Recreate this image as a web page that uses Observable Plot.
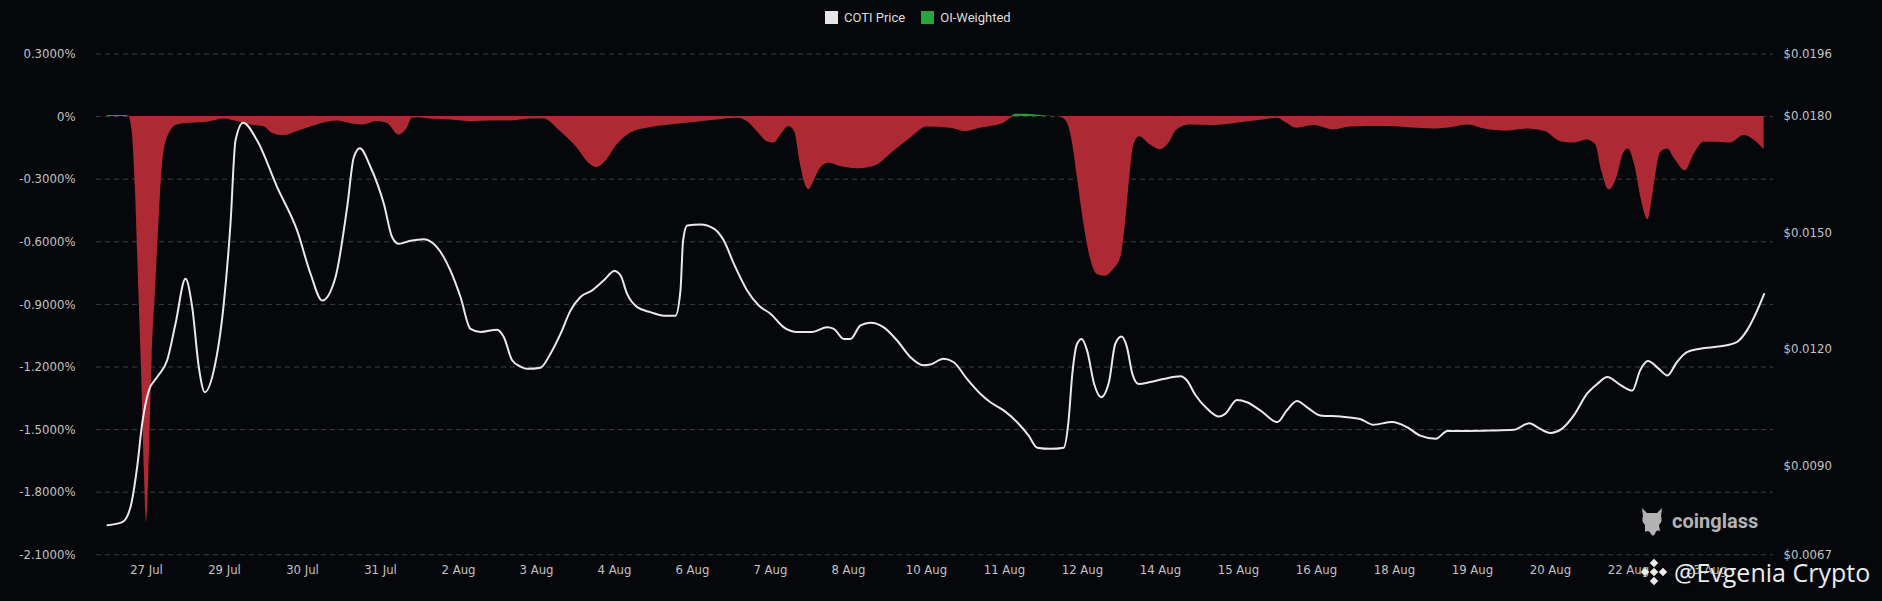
<!DOCTYPE html>
<html>
<head>
<meta charset="utf-8">
<script src="https://cdn.jsdelivr.net/npm/d3@7"></script>
<script src="https://cdn.jsdelivr.net/npm/@observablehq/plot@0.6"></script>
<style>
  html, body { margin: 0; padding: 0; background: #06070a; }
  #wrap { position: relative; width: 1882px; height: 601px; background: #06070a; overflow: hidden;
          font-family: "DejaVu Sans Condensed", "Liberation Sans Narrow", Roboto, sans-serif; }
  #legend { position: absolute; left: 825px; top: 9px; height: 17px; display: flex; align-items: center;
            color: #dcdcdc; font-size: 13px; font-family: Roboto, "Noto Sans", sans-serif; }
  #legend .sw { width: 13px; height: 13px; display: inline-block; margin-right: 6px; }
  #legend .item { display: flex; align-items: center; margin-right: 16px; }
  #chart { position: absolute; left: 0; top: 34px; }
  #chart2 { position: absolute; left: 0; top: 34px; }
  #cg { position: absolute; left: 1638px; top: 505px; display: flex; align-items: center; }
  #cg span { color: #b3b3b3; font: bold 20px Roboto, "Noto Sans", sans-serif; margin-left: 6px; }
  #wm { position: absolute; left: 1640px; top: 555px; display: flex; align-items: center; }
  #wm span { color: #ececec; font: 25px "Open Sans", "Noto Sans", sans-serif; margin-left: 6px;
             text-shadow: 0 0 2px rgba(0,0,0,0.6); }
</style>
</head>
<body>
<div id="wrap">
  <div id="legend">
    <div class="item"><span class="sw" style="background:#e6e6e6"></span>COTI Price</div>
    <div class="item"><span class="sw" style="background:#27a43a"></span>OI-Weighted</div>
  </div>
  <div id="chart"></div>
  <div id="chart2"></div>
  <div id="cg">
    <svg width="28" height="32" viewBox="0 0 28 32">
      <path d="M4 3 L9 8 L19 8 L24 3 L23 11 Q25 16 21 20 L22 26 Q18 24 17 29 L15 31 L13 29 Q11 24 7 27 L7 20 Q3 16 5 11 Z" fill="#b3b3b3"/>
    </svg>
    <span>coinglass</span>
  </div>
  <div id="wm">
    <svg width="28" height="28" viewBox="0 0 28 28">
      <g fill="#ececec">
        <rect x="11" y="11" width="6" height="6" transform="rotate(45 14 14)"/>
        <rect x="11" y="2" width="6" height="6" transform="rotate(45 14 5)"/>
        <rect x="11" y="20" width="6" height="6" transform="rotate(45 14 23)"/>
        <rect x="2" y="11" width="6" height="6" transform="rotate(45 5 14)"/>
        <rect x="20" y="11" width="6" height="6" transform="rotate(45 23 14)"/>
      </g>
    </svg>
    <span>@Evgenia Crypto</span>
  </div>
</div>
<script>
// ---- data (x = position on the date axis, in label steps; 0 = "27 Jul") ----
const tickLabels = ["27 Jul","29 Jul","30 Jul","31 Jul","2 Aug","3 Aug","4 Aug","6 Aug","7 Aug","8 Aug",
  "10 Aug","11 Aug","12 Aug","14 Aug","15 Aug","16 Aug","18 Aug","19 Aug","20 Aug","22 Aug","23 Aug"];
const pctTicks = [0.3, 0, -0.3, -0.6, -0.9, -1.2, -1.5, -1.8, -2.1];
const priceTicks = [0.0196, 0.0180, 0.0150, 0.0120, 0.0090, 0.0067];

const priceIdx = [-0.5,-0.31,-0.205,-0.12,-0.056,0.03,0.137,0.265,0.372,0.5,0.586,0.671,0.748,0.863,0.991,
  1.077,1.141,1.239,1.419,1.675,1.932,2.103,2.252,2.423,2.573,2.658,2.735,2.872,3.043,3.15,3.235,3.385,3.556,
  3.726,3.897,4.026,4.154,4.282,4.496,4.581,4.688,4.795,4.88,5.051,5.179,5.308,5.436,5.564,5.714,5.863,6.0,
  6.077,6.162,6.291,6.462,6.632,6.782,6.846,6.88,6.932,7.103,7.274,7.4,7.53,7.701,7.85,8.0,8.171,8.342,8.534,
  8.726,8.812,8.94,9.026,9.154,9.282,9.453,9.624,9.795,9.966,10.05,10.22,10.35,10.52,10.69,10.82,10.99,11.16,
  11.31,11.42,11.59,11.76,11.82,11.87,11.93,11.99,12.06,12.15,12.24,12.34,12.42,12.5,12.57,12.64,12.72,12.87,
  13.04,13.26,13.34,13.45,13.6,13.75,13.83,13.98,14.11,14.28,14.5,14.62,14.75,14.88,15.05,15.31,15.56,15.73,
  15.97,16.16,16.33,16.53,16.68,16.93,17.23,17.53,17.73,17.83,18.0,18.15,18.3,18.47,18.6,18.73,18.9,19.05,
  19.15,19.25,19.39,19.5,19.62,19.75,19.92,20.18,20.39,20.52,20.65,20.74];
const priceUsd = [0.00746,0.00754,0.00793,0.00896,0.01007,0.01093,0.01128,0.01171,0.01265,0.01381,0.01308,
  0.01153,0.01089,0.01145,0.01317,0.01523,0.01737,0.01783,0.01737,0.01617,0.01505,0.01394,0.01325,0.01385,
  0.01566,0.01694,0.01717,0.01669,0.01574,0.01488,0.01471,0.01479,0.01483,0.01462,0.01402,0.01334,0.01252,
  0.01244,0.0125,0.01231,0.01171,0.01155,0.01149,0.01152,0.01188,0.01239,0.01299,0.01334,0.01351,0.01377,
  0.01401,0.0139,0.01342,0.01308,0.01295,0.01286,0.01286,0.01351,0.0148,0.01518,0.01521,0.0151,0.0148,0.0142,
  0.01351,0.01312,0.01291,0.01256,0.01244,0.01244,0.01256,0.01252,0.01226,0.01226,0.01261,0.01268,0.01256,
  0.01222,0.01179,0.01158,0.0116,0.01175,0.01166,0.01123,0.01085,0.01063,0.01042,0.01012,0.00977,0.00946,
  0.00943,0.00946,0.01012,0.01136,0.01213,0.01226,0.01196,0.0111,0.01076,0.01115,0.01213,0.01232,0.01205,
  0.01136,0.0111,0.01115,0.01123,0.0113,0.01119,0.01081,0.01046,0.01026,0.01033,0.01069,0.01063,0.01042,
  0.01012,0.01042,0.01066,0.0105,0.01029,0.01026,0.0102,0.01005,0.01012,0.00999,0.00977,0.00969,0.00989,
  0.00989,0.0099,0.00992,0.01009,0.00999,0.00984,0.00995,0.01029,0.01085,0.0111,0.01128,0.01107,0.01093,
  0.01145,0.01169,0.01149,0.01132,0.01166,0.01192,0.01201,0.01207,0.01218,0.01248,0.01299,0.01342];

const oiIdx = [-0.5,-0.25,-0.227,-0.184,-0.141,-0.098,-0.056,-0.026,0,0.03,0.073,0.115,0.158,0.201,0.265,
  0.393,0.564,0.778,0.991,1.162,1.333,1.504,1.611,1.76,1.932,2.188,2.444,2.658,2.786,2.957,3.085,3.235,3.342,
  3.406,3.491,3.641,3.897,4.197,4.41,4.667,4.923,5.094,5.308,5.521,5.671,5.77,5.885,6.035,6.205,6.419,6.718,
  7.06,7.316,7.573,7.701,7.829,7.957,8.043,8.15,8.235,8.308,8.385,8.449,8.491,8.556,8.641,8.748,8.897,9.111,
  9.325,9.581,9.795,10.01,10.31,10.5,10.69,10.99,11.08,11.14,11.29,11.46,11.68,11.78,11.87,11.93,12.02,12.1,
  12.19,12.29,12.4,12.49,12.55,12.61,12.66,12.73,12.87,13.0,13.11,13.21,13.38,13.68,14.03,14.32,14.5,14.62,
  14.75,14.97,15.22,15.44,15.86,16.5,16.72,16.95,17.15,17.45,17.71,17.93,18.13,18.3,18.47,18.58,18.66,18.75,
  18.85,18.94,19.0,19.08,19.17,19.25,19.32,19.41,19.5,19.6,19.73,19.84,19.97,20.14,20.31,20.48,20.61,20.74];
const oiPct = [0.005,0.005,0,-0.072,-0.359,-0.837,-1.314,-1.713,-1.944,-1.713,-1.155,-0.837,-0.518,-0.247,
  -0.104,-0.04,-0.032,-0.027,-0.011,-0.024,-0.04,-0.048,-0.08,-0.092,-0.072,-0.04,-0.021,-0.037,-0.04,-0.024,
  -0.032,-0.088,-0.056,-0.008,-0.005,-0.011,-0.016,-0.024,-0.021,-0.021,-0.011,-0.011,-0.072,-0.151,-0.223,
  -0.244,-0.215,-0.135,-0.08,-0.056,-0.04,-0.027,-0.016,-0.008,-0.024,-0.072,-0.12,-0.127,-0.08,-0.048,-0.072,
  -0.231,-0.327,-0.351,-0.311,-0.247,-0.223,-0.239,-0.25,-0.239,-0.167,-0.104,-0.05,-0.056,-0.072,-0.056,
  -0.032,-0.008,0.011,0.011,0.005,0,-0.016,-0.12,-0.279,-0.518,-0.677,-0.757,-0.765,-0.733,-0.677,-0.518,
  -0.279,-0.135,-0.096,-0.135,-0.159,-0.127,-0.064,-0.04,-0.043,-0.029,-0.016,-0.008,-0.032,-0.056,-0.043,
  -0.064,-0.05,-0.048,-0.059,-0.053,-0.04,-0.059,-0.069,-0.059,-0.072,-0.12,-0.127,-0.112,-0.135,-0.263,
  -0.351,-0.295,-0.175,-0.155,-0.231,-0.406,-0.494,-0.359,-0.175,-0.155,-0.207,-0.26,-0.183,-0.123,-0.123,
  -0.127,-0.091,-0.112,-0.159];

// ---- layout ----
const W = 1882, H = 567, mL = 96, mR = 109, mT = 19.5, mB = 46.7;
const xDomain = [-0.641, 20.86];
const font = '"DejaVu Sans Condensed", "Liberation Sans Narrow", Roboto, sans-serif';
const axisColor = "#c2c2c2";

const oi = oiIdx.map((t, i) => ({t, v: oiPct[i]}));
const price = priceIdx.map((t, i) => ({t, v: priceUsd[i]}));

const p1 = Plot.plot({
  width: W, height: H, marginLeft: mL, marginRight: mR, marginTop: mT, marginBottom: mB,
  style: {background: "transparent", color: axisColor, fontFamily: font, fontSize: "13px"},
  x: {domain: xDomain, axis: null},
  y: {domain: [-2.1, 0.3], axis: null},
  marks: [
    Plot.gridY(pctTicks, {stroke: "#3b3e46", strokeOpacity: 1, strokeWidth: 1, strokeDasharray: "5,4"}),
    Plot.areaY(oi, {x: "t", y1: 0, y2: d => Math.min(d.v, 0), curve: "monotone-x", fill: "#ad2934"}),
    Plot.areaY(oi, {x: "t", y1: 0, y2: d => Math.max(d.v, 0), curve: "monotone-x", fill: "#2a9a38"}),
    Plot.axisY(pctTicks, {anchor: "left", tickSize: 0, tickPadding: 21, fill: axisColor, label: null,
      tickFormat: d => d === 0 ? "0%" : d.toFixed(4) + "%"}),
    Plot.axisX(d3.range(tickLabels.length), {anchor: "bottom", tickSize: 0, tickPadding: 10, fill: axisColor,
      label: null, tickFormat: i => tickLabels[i]})
  ]
});
document.getElementById("chart").appendChild(p1);

const p2 = Plot.plot({
  width: W, height: H, marginLeft: mL, marginRight: mR, marginTop: mT, marginBottom: mB,
  style: {background: "transparent", color: axisColor, fontFamily: font, fontSize: "13px"},
  x: {domain: xDomain, axis: null},
  y: {domain: [0.0067, 0.0196], axis: null},
  marks: [
    Plot.line(price, {x: "t", y: "v", curve: "monotone-x", stroke: "#e9e9e9", strokeWidth: 2}),
    Plot.axisY(priceTicks, {anchor: "right", tickSize: 0, tickPadding: 10, fill: axisColor, label: null,
      tickFormat: d => "$" + d.toFixed(4)})
  ]
});
document.getElementById("chart2").appendChild(p2);
</script>
</body>
</html>
